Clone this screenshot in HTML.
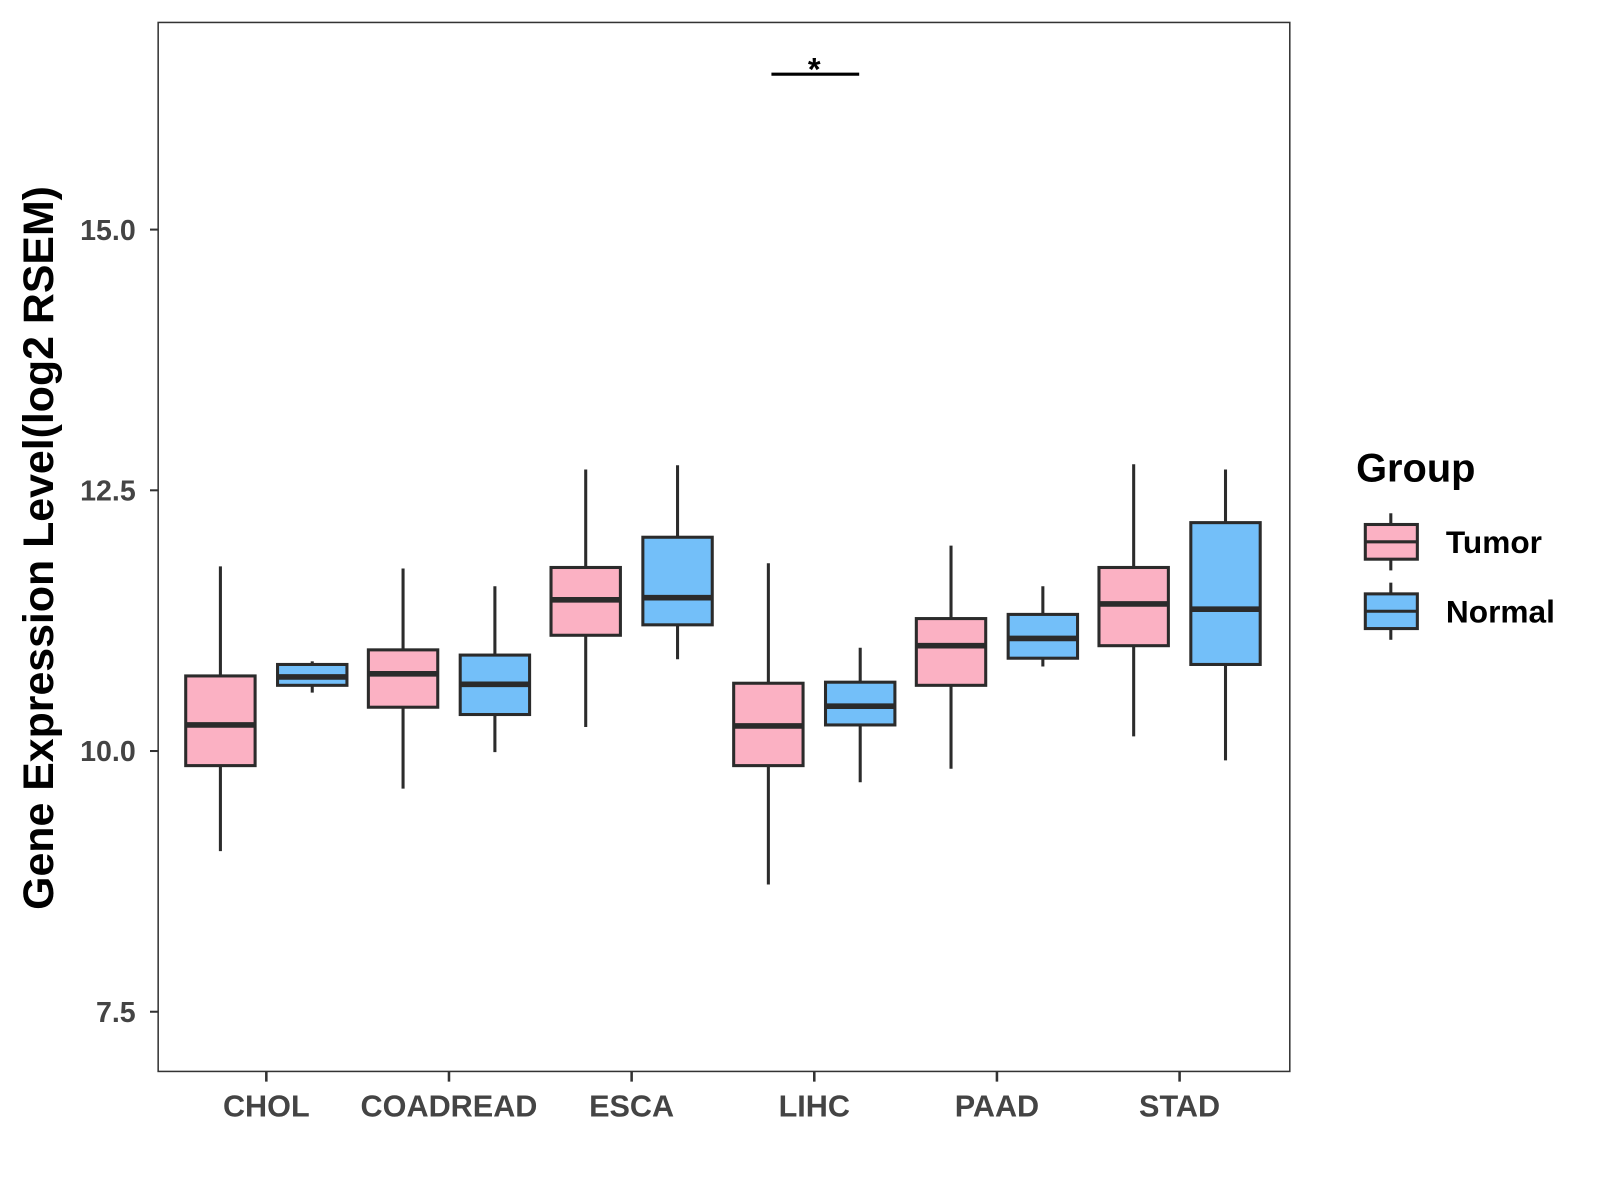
<!DOCTYPE html>
<html><head><meta charset="utf-8"><style>body{margin:0;background:#fff}svg{display:block;font-family:"Liberation Sans",Arial,sans-serif}</style></head>
<body>
<svg id="chart" width="1600" height="1200" viewBox="0 0 1568 1176"></svg>
<script>
const categories=["CHOL","COADREAD","ESCA","LIHC","PAAD","STAD"];
const groups=["Tumor","Normal"];
const colors=["#FBB1C3","#73BFF9"];
// [whiskerHigh, q3, median, q1, whiskerLow]
const tumorStats=[[11.77,10.72,10.25,9.86,9.04],[11.75,10.97,10.74,10.42,9.64],[12.70,11.76,11.45,11.11,10.23],[11.80,10.65,10.24,9.86,8.72],[11.97,11.27,11.01,10.63,9.83],[12.75,11.76,11.41,11.01,10.14]];
const normalStats=[[10.86,10.83,10.71,10.63,10.56],[11.58,10.92,10.64,10.35,9.99],[12.74,12.05,11.47,11.21,10.88],[10.99,10.66,10.43,10.25,9.70],[11.58,11.31,11.08,10.89,10.81],[12.70,12.19,11.36,10.83,9.91]];
const yTicks=[7.5,10.0,12.5,15.0];
const sigCategory=["LIHC"];
const sigLevel=[16.49];

const NS="http://www.w3.org/2000/svg",svg=document.getElementById('chart');
function el(t,a,p){const e=document.createElementNS(NS,t);for(const k in a)e.setAttribute(k,a[k]);(p||svg).appendChild(e);return e;}
const X0=155,X1=1264,Y0=22,Y1=1050;
const y=v=>736-(v-10)*102.2;
const x=i=>261+i*179;
const stroke="#2b2b2b";
let r=el('rect',{x:X0,y:Y0,width:X1-X0,height:Y1-Y0,fill:'#fff',stroke:'#333','stroke-width':1.5});

yTicks.forEach(t=>{
 let l=el('line',{x1:X0-8,x2:X0,y1:y(t),y2:y(t),stroke:'#333','stroke-width':2});
 
 let tx=el('text',{x:X0-22,y:y(t)+10,'text-anchor':'end','font-size':28,'font-weight':'bold',fill:'#444'});tx.textContent=t.toFixed(1);
 
});
categories.forEach((c,i)=>{
 let l=el('line',{x1:x(i),x2:x(i),y1:Y1,y2:Y1+10,stroke:'#333','stroke-width':2.5});
 
 let tx=el('text',{x:x(i),y:1094,'text-anchor':'middle','font-size':30,'font-weight':'bold',fill:'#444'});tx.textContent=c;
 
 [tumorStats[i],normalStats[i]].forEach((s,g)=>{
  const cx=x(i)+(g?45:-45),hw=34;
  const gg=el('g',{});
  
  el('line',{x1:cx,x2:cx,y1:y(s[0]),y2:y(s[4]),stroke:stroke,'stroke-width':3},gg);
  el('rect',{x:cx-hw,y:y(s[1]),width:2*hw,height:y(s[3])-y(s[1]),fill:colors[g],stroke:stroke,'stroke-width':3},gg);
  el('line',{x1:cx-hw,x2:cx+hw,y1:y(s[2]),y2:y(s[2]),stroke:stroke,'stroke-width':5.5},gg);
 });
});
sigCategory.forEach((c,k)=>{
 const i=categories.indexOf(c),yy=y(sigLevel[k]);
 let l=el('line',{x1:x(i)-42,x2:x(i)+44,y1:yy,y2:yy,stroke:'#000','stroke-width':3});
 
 let t=el('text',{x:x(i),y:yy+6,'text-anchor':'middle','font-size':32,'font-weight':'bold'});t.textContent='*';
 
});
let yl=el('text',{transform:'translate(52,537) rotate(-90)','text-anchor':'middle','font-size':42,'font-weight':'bold'});yl.textContent='Gene Expression Level(log2 RSEM)';

let lt=el('text',{x:1329,y:472,'font-size':39,'font-weight':'bold'});lt.textContent='Group';

groups.forEach((g,k)=>{
 const cy=531+k*68;
 const gg=el('g',{});
 
 el('line',{x1:1363,x2:1363,y1:cy-28,y2:cy+28,stroke:stroke,'stroke-width':3},gg);
 el('rect',{x:1338,y:cy-17,width:51,height:34,fill:colors[k],stroke:stroke,'stroke-width':3},gg);
 el('line',{x1:1338,x2:1389,y1:cy,y2:cy,stroke:stroke,'stroke-width':3},gg);
 const t=el('text',{x:1417,y:cy+11,'font-size':31,'font-weight':'bold'},gg);t.textContent=g;
});
</script>
</body></html>
